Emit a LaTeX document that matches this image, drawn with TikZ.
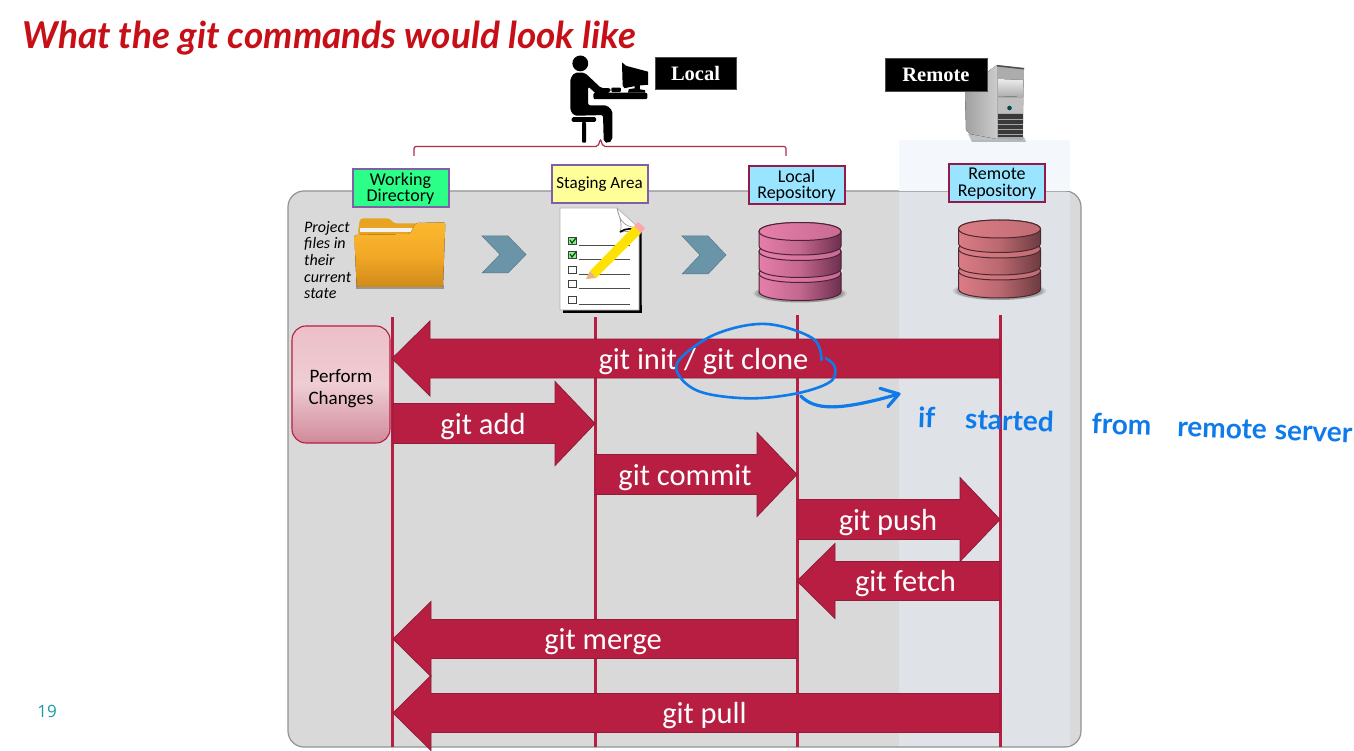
\documentclass[tikz,border=0pt]{standalone}
\usepackage{fontspec}
\setmainfont{Carlito}
\newfontfamily\hw{Lato}
\newfontfamily\capfont{Liberation Serif}
\newfontfamily\numfont{Open Sans}
\usetikzlibrary{calc}
\definecolor{crim}{HTML}{B71E42}
\definecolor{crimd}{HTML}{8F1C38}
\definecolor{panelc}{HTML}{D9D9D9}
\definecolor{inkred}{HTML}{C70F17}
\definecolor{inkblue}{HTML}{0F7BEA}
\definecolor{chev}{HTML}{6A95A8}
\definecolor{dbl}{HTML}{E67FA9}
\definecolor{dbd}{HTML}{6E2F4E}
\definecolor{dbrl}{HTML}{DC7C85}
\definecolor{dbrd}{HTML}{6C3B40}
\definecolor{purpleb}{HTML}{7F5FA8}
\definecolor{greenb}{HTML}{2BFF88}
\definecolor{yellowb}{HTML}{FFFF99}
\definecolor{blueb}{HTML}{99E5FF}
\definecolor{repob}{HTML}{961A48}
\definecolor{remcol}{HTML}{DFE3E7}
\definecolor{remtop}{HTML}{F4F7FB}
\definecolor{foldt}{HTML}{FBB82E}
\definecolor{foldm}{HTML}{F3A927}
\definecolor{foldb}{HTML}{CF8A1A}
\definecolor{foldback}{HTML}{E8A420}
\tikzset{
  gitarrow/.style={fill=crim,draw=crimd,line width=.8pt,line join=miter},
  gitlabel/.style={text=white,font=\fontsize{30.5}{31}\selectfont,inner sep=0pt},
  lifeline/.style={crim,line width=3pt},
  stagebox/.style={line width=2pt,minimum width=96pt,minimum height=38pt,inner sep=0pt,align=center,font=\fontsize{18}{19}\selectfont,text=black},
  blackbox/.style={fill=black,draw=gray!60!black,line width=.5pt,text=white,inner sep=0pt,font=\capfont\bfseries\fontsize{20.5}{22}\selectfont},
  chevron/.style={fill=chev,draw=chev!80!black,line width=.5pt},
  inkline/.style={inkblue,line width=2.6pt,line cap=round,line join=round},
  bracel/.style={draw=crim!85!gray,line width=1.2pt,rounded corners=2pt}
}
\newcommand{\gitRight}[6]{% name x1 x2 yc label labelx
  \draw[gitarrow] (#2,#4-20) -- (#3-40,#4-20) -- (#3-40,#4-42) -- (#3,#4) -- (#3-40,#4+42) -- (#3-40,#4+20) -- (#2,#4+20) -- cycle;
  \node[gitlabel] (#1) at (#6,#4+3) {#5};}
\newcommand{\gitLeft}[6]{% name tip end yc label labelx
  \draw[gitarrow] (#3,#4-19.5) -- (#2+38,#4-19.5) -- (#2+38,#4-37.5) -- (#2,#4) -- (#2+38,#4+37.5) -- (#2+38,#4+19.5) -- (#3,#4+19.5) -- cycle;
  \node[gitlabel] (#1) at (#6,#4+3) {#5};}
\newcommand{\dbtier}[5]{% cx ytop h light dark
  \draw[left color=#4,right color=#5,middle color=#4!70!#5,draw=#5!70!black,line width=1pt]
    (#1-41,#2) -- (#1-41,#2+#3) .. controls (#1-41,#2+#3+12) and (#1+41,#2+#3+12) .. (#1+41,#2+#3) -- (#1+41,#2) .. controls (#1+41,#2-12) and (#1-41,#2-12) .. (#1-41,#2) -- cycle;
  \draw[left color=#4,right color=#4!75!#5,draw=#5!70!black,line width=1pt] (#1-41,#2) .. controls (#1-41,#2+12) and (#1+41,#2+12) .. (#1+41,#2) .. controls (#1+41,#2-12) and (#1-41,#2-12) .. (#1-41,#2) -- cycle;}
\newcommand{\dbstack}[4]{% cx ytop(centre of top ellipse) light dark
  \foreach \r/\o in {47/.08,45/.10,43/.14}{\fill[black,opacity=\o] (#1,#2+62) ellipse ({\r pt} and 9pt);}
  \dbtier{#1}{#2+42}{18}{#3}{#4}
  \dbtier{#1}{#2+20}{17}{#3}{#4}
  \dbtier{#1}{#2}{14.5}{#3}{#4}}
\newcommand{\chk}[2]{% y, box fill
  \draw[gray!50!black,line width=1pt,fill=#2] (568.5,#1-3.7) rectangle (576.5,#1+3.7);
  \draw[black!70,line width=.9pt] (578.5,#1+4) -- (630,#1+4);}
\begin{document}
\begin{tikzpicture}[x=1pt,y=-1pt]
\useasboundingbox (0,0) rectangle (1354,751);
\fill[white] (0,0) rectangle (1354,751);
% panel
\fill[fill=panelc,draw=gray!85,line width=1.2pt,rounded corners=16pt] (288,191) rectangle (1081,747);
\fill[remtop] (899,140) rectangle (1070,191);
\fill[remcol] (899,191.6) rectangle (1070,746.4);
% life lines
\foreach \x/\t in {392.5/317,595/317,797.5/315,1000/315}{\draw[lifeline] (\x,\t) -- (\x,747);}
% brace
\draw[bracel] (414,156) -- (414,146.5) -- (598,146.5) -- (600.5,139) -- (603,146.5) -- (786,146.5) -- (786,156);
% stage boxes
\node[stagebox,draw=purpleb,fill=greenb] (wd) at (400.5,188.5) {Working\\[-2.5pt]Directory};
\node[stagebox,draw=purpleb,fill=yellowb] (sa) at (599.5,184.5) {\fontsize{17}{18}\selectfont Staging Area};
\node[stagebox,draw=repob,fill=blueb] (lr) at (796.5,185.5) {Local\\[-2.5pt]Repository};
\node[stagebox,draw=repob,fill=blueb] (rr) at (997,183.5) {Remote\\[-2.5pt]Repository};
% black caps
\node[blackbox,minimum width=81pt,minimum height=32pt] (local) at (695.5,73) {Local};
% server
\fill[black,opacity=.25] (968,134) -- (1024,137) -- (1026,142) -- (972,142) -- cycle;
\fill[left color=gray!75,right color=gray!40] (965,92) -- (990,70) -- (997,65) -- (997,139) -- (970,134) -- (966,130) -- cycle;
\fill[gray!65] (997,65) -- (1024,68) -- (1023,140) -- (997,139) -- cycle;
\fill[top color=gray!15,bottom color=gray!65] (998,79) -- (1023,80) -- (1023,97) -- (998,96) -- cycle;
\fill[gray!60!black] (997,65) -- (1024,68) -- (1024,69.5) -- (997,66.5) -- cycle;
\fill[gray!50!white] (998,98) rectangle (1023,113);
\fill[teal!60!black] (1009.5,108) circle (2.3pt);
\fill[gray!45!black] (998,114) rectangle (1023,137);
\foreach \gy in {119,124,129,134}{\draw[gray!70,line width=.7pt] (998,\gy) -- (1023,\gy);}
\node[blackbox,minimum width=102pt,minimum height=33pt] (remote) at (936,74.5) {Remote};
% person
\begin{scope}[shift={(540,40)},scale=.3444]
  \fill[black] (117,68) circle (23);
  \fill[black,rounded corners=2pt] (88,112) -- (100,95) -- (130,95) -- (178,140) -- (205,140) -- (205,152) -- (165,158) -- (140,135) -- (140,190) -- (195,190) -- (210,205) -- (210,290) -- (198,300) -- (185,295) -- (183,218) -- (100,220) -- (88,205) -- cycle;
  \fill[black,rounded corners=1.5pt] (92,224) rectangle (163,238);
  \fill[black,rounded corners=1pt] (122,238) rectangle (134,298);
  \fill[black,rounded corners=2pt] (155,153) rectangle (312,172);
  \fill[black,rounded corners=1pt] (207,138) rectangle (235,151);
  \fill[black] (238,65) -- (250,75) -- (314,92) -- (314,130) -- (290,132) -- (290,143) -- (305,146) -- (305,153) -- (255,153) -- (258,143) -- (275,140) -- (275,134) -- (245,140) -- (240,132) -- cycle;
\end{scope}
% project text
\node[anchor=west,inner sep=0pt,align=left,font=\itshape\fontsize{16}{16.6}\selectfont] (proj) at (304,260) {Project\\files in\\their\\current\\state};
% folder
\begin{scope}[shift={(285,160)},scale=.3333]
  \fill[black,opacity=.3] (212,375) rectangle (478,387);
  \fill[foldback,rounded corners=3pt] (218,225) -- (225,175) -- (315,175) -- (325,190) -- (480,190) -- (480,240) -- cycle;
  \fill[white!90!gray] (225,203) rectangle (385,217);
  \fill[top color=foldt,bottom color=foldb,middle color=foldm,rounded corners=2pt] (208,225) -- (375,222) -- (392,189) -- (481,187) -- (474,381) -- (215,381) -- cycle;
\end{scope}
% checklist
\fill[black] (563,306) -- (641.5,306) -- (641.5,232) -- (637,232) -- (637,300) -- (563,300) -- cycle;
\fill[black] (563,305) rectangle (641.5,313);
\draw[fill=white,draw=gray!60,line width=.7pt] (560,208) -- (617,208) -- (639,228) -- (639,310) -- (560,310) -- cycle;
\draw[fill=white,draw=gray!80,line width=.7pt] (617,208) .. controls (619,218) and (622,228) .. (640,228) .. controls (632,233) and (624,231) .. (620,232) .. controls (623,225) and (619,216) .. (617,208) -- cycle;
\draw[black,line width=1.6pt] (620,232) .. controls (626,228) and (632,228) .. (638,231);
\chk{241}{green!40!white!80!gray}
\chk{255}{green!40!white!80!gray}
\chk{270}{white}
\chk{284}{white}
\chk{300}{white}
\draw[green!35!black,line width=1.2pt] (570,240) -- (572,243) -- (576,238);
\draw[green!35!black,line width=1.2pt] (570,254) -- (572,257) -- (576,252);
\fill[yellow!85!orange] (590,271) -- (634,226) -- (641,233) -- (596,278) -- cycle;
\fill[orange!40!brown!60!white] (590,271) -- (596,278) -- (586,279) -- cycle;
\fill[red!35!white] (634,226) -- (638,222) -- (645,228) -- (641,233) -- cycle;
% chevrons
\draw[chevron] (482,236) -- (508,236) -- (526,254.5) -- (508,273) -- (482,273) -- (500,254.5) -- cycle;
\draw[chevron] (682,236) -- (708,236) -- (726,255) -- (708,274) -- (682,274) -- (700,255) -- cycle;
% databases
\dbstack{800}{231.5}{dbl}{dbd}
\dbstack{999.5}{229}{dbrl}{dbrd}
% perform changes
\node[draw=crim,line width=1.1pt,rounded corners=14pt,minimum width=98pt,minimum height=117pt,top color={rgb,255:red,237;green,191;blue,200},bottom color={rgb,255:red,208;green,138;blue,154},middle color={rgb,255:red,238;green,205;blue,211},inner sep=0pt] (perform) at (341,384.5) {};
\node[align=center,font=\fontsize{19}{22}\selectfont,inner sep=0pt] (performtext) at (341,389) {Perform\\Changes};
% arrows
\gitLeft{init}{392}{1000}{358.5}{git init / git clone}{703.5}
\gitRight{add}{393}{595}{423.5}{git add}{483}
\gitRight{commit}{595}{797}{474.5}{git commit}{685}
\gitRight{push}{798}{1000}{519.5}{git push}{888}
\gitLeft{fetch}{797}{1000}{581}{git fetch}{905.5}
\gitLeft{merge}{393}{797}{639}{git merge}{603}
\gitLeft{pull}{393}{1000}{713}{git pull}{704.5}
% ink
\begin{scope}[shift={(660,310)},x=.4425pt,y=-.3333pt]
  \draw[inkline] plot[smooth,tension=.6] coordinates {(365,150) (345,85) (240,42) (130,70) (50,140) (40,190) (90,245) (200,265) (310,250) (385,215) (395,170) (375,145)};
  \draw[inkline,line width=3.2pt] (318,258) .. controls (350,300) and (400,305) .. (540,252);
  \draw[inkline,line width=3.2pt] (497,235) -- (540,252) -- (515,290);
\end{scope}
\node[anchor=west,inner sep=0pt,text=inkred,font=\hw\bfseries\itshape\fontsize{37}{38}\selectfont] (title) at (22,38) {What the git commands would look like};
\node[anchor=west,inner sep=0pt,rotate=-2,text=inkblue,font=\hw\bfseries\fontsize{28}{30}\selectfont] (note) at (918,417) {if\hspace{30pt}started\hspace{38pt}from\hspace{26pt}remote\hspace{8pt}server};
\node[text={rgb,255:red,27;green,154;blue,170},inner sep=0pt,font=\numfont\fontsize{17}{18}\selectfont] (page) at (47,711) {19};
\end{tikzpicture}
\end{document}
